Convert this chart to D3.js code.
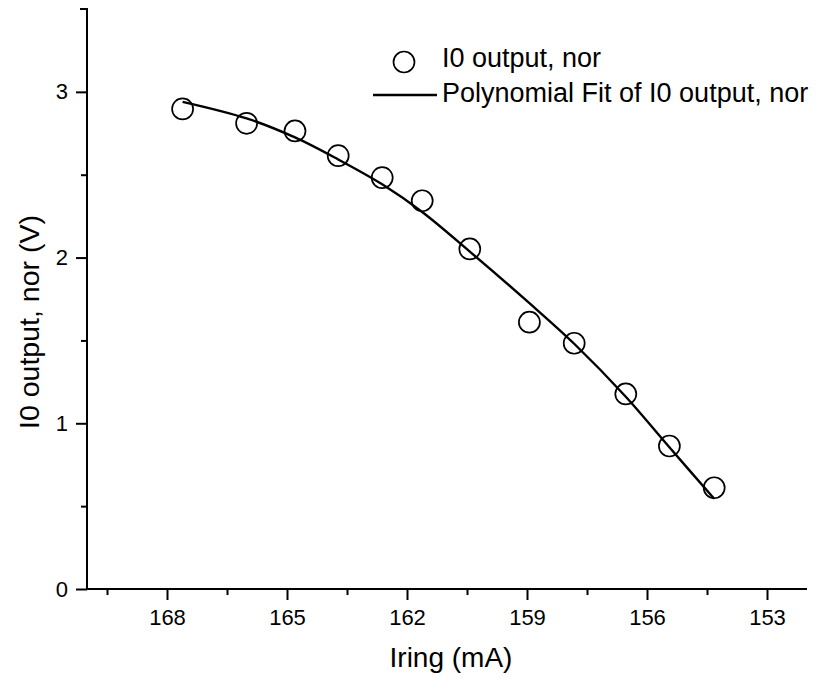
<!DOCTYPE html>
<html>
<head>
<meta charset="utf-8">
<script src="https://cdn.jsdelivr.net/npm/d3@7"></script>
<style>
  html, body { margin: 0; padding: 0; background: #fff; }
  svg { display: block; font-family: "Liberation Sans", Arial, sans-serif; }
</style>
</head>
<body>
<svg id="chart" width="825" height="679"></svg>
<script>
// ---- data ----
const iring = [167.61, 166.01, 164.80, 163.72, 162.62, 161.62, 160.43, 158.94, 157.82, 156.53, 155.44, 154.32];
const i0Output = [2.897, 2.810, 2.764, 2.615, 2.482, 2.343, 2.052, 1.610, 1.483, 1.177, 0.863, 0.611];
const fitX = [167.61, 166.01, 164.80, 163.72, 162.62, 161.62, 160.43, 158.94, 157.82, 156.53, 155.44, 154.32];
const fitY = [2.940, 2.840, 2.725, 2.592, 2.442, 2.275, 2.036, 1.725, 1.480, 1.160, 0.855, 0.545];
const xTicks = [168, 165, 162, 159, 156, 153];
const xMinor = [169.5, 166.5, 163.5, 160.5, 157.5, 154.5];
const yTicks = [0, 1, 2, 3];
const yMinor = [0.5, 1.5, 2.5];
const legendLabels = ["I0 output, nor", "Polynomial Fit of I0 output, nor"];
const xTitle = "Iring (mA)";
const yTitle = "I0 output, nor (V)";

(function () {
// ---- layout ----
const svg = d3.select("#chart");
const mLeft = 87, mRight = 807, mTop = 9, mBottom = 589;
const x = d3.scaleLinear().domain([170, 152]).range([mLeft, mRight]);
const y = d3.scaleLinear().domain([0, 3.5]).range([mBottom, mTop]);

// axes
const xAxis = d3.axisBottom(x).tickValues(xTicks).tickSize(11).tickPadding(9).tickFormat(d3.format("d"));
const xAxisMinor = d3.axisBottom(x).tickValues(xMinor).tickSize(6).tickFormat("");
const yAxis = d3.axisLeft(y).tickValues(yTicks).tickSize(11).tickPadding(8).tickFormat(d3.format("d"));
const yAxisMinor = d3.axisLeft(y).tickValues(yMinor).tickSize(6).tickFormat("");

function styleAxis(g) {
  g.select(".domain").attr("stroke", "#000").attr("stroke-width", 2);
  g.selectAll(".tick line").attr("stroke", "#000").attr("stroke-width", 2);
  g.selectAll(".tick text").attr("fill", "#000").style("font-size", "22px")
    .style("font-family", "'Liberation Sans', Arial, sans-serif");
}

const gx = svg.append("g").attr("transform", `translate(0,${mBottom})`).call(xAxis);
styleAxis(gx);
gx.select(".domain").attr("d", `M${mLeft},0H${mRight}`);
const gxm = svg.append("g").attr("transform", `translate(0,${mBottom})`).call(xAxisMinor);
styleAxis(gxm); gxm.select(".domain").remove();

const gy = svg.append("g").attr("transform", `translate(${mLeft},0)`).call(yAxis);
styleAxis(gy);
gy.select(".domain").attr("d", `M-7,${mTop}H0V${mBottom}`);
const gym = svg.append("g").attr("transform", `translate(${mLeft},0)`).call(yAxisMinor);
styleAxis(gym); gym.select(".domain").remove();

// titles
svg.append("text").attr("x", 451).attr("y", 667)
  .attr("text-anchor", "middle").style("font-size", "28px").text(xTitle);
svg.append("text").attr("transform", `translate(39,322) rotate(-90)`)
  .attr("text-anchor", "middle").style("font-size", "28.5px").text(yTitle);

// fit line
const line = d3.line().x((d, i) => x(fitX[i])).y((d, i) => y(fitY[i])).curve(d3.curveCatmullRom);
svg.append("path").datum(fitY).attr("d", line)
  .attr("fill", "none").attr("stroke", "#000").attr("stroke-width", 2.4);

// points
svg.append("g").selectAll("circle").data(i0Output).join("circle")
  .attr("cx", (d, i) => x(iring[i])).attr("cy", d => y(d)).attr("r", 10.5)
  .attr("fill", "none").attr("stroke", "#000").attr("stroke-width", 1.7);

// legend
const lg = svg.append("g");
lg.append("circle").attr("cx", 404).attr("cy", 62).attr("r", 10.5)
  .attr("fill", "none").attr("stroke", "#000").attr("stroke-width", 1.7);
lg.append("text").attr("x", 442).attr("y", 67).style("font-size", "27px").text(legendLabels[0]);
lg.append("line").attr("x1", 373).attr("x2", 437).attr("y1", 95).attr("y2", 95)
  .attr("stroke", "#000").attr("stroke-width", 2.4);
lg.append("text").attr("x", 442).attr("y", 102).style("font-size", "27px").text(legendLabels[1]);
})();
</script>
</body>
</html>
